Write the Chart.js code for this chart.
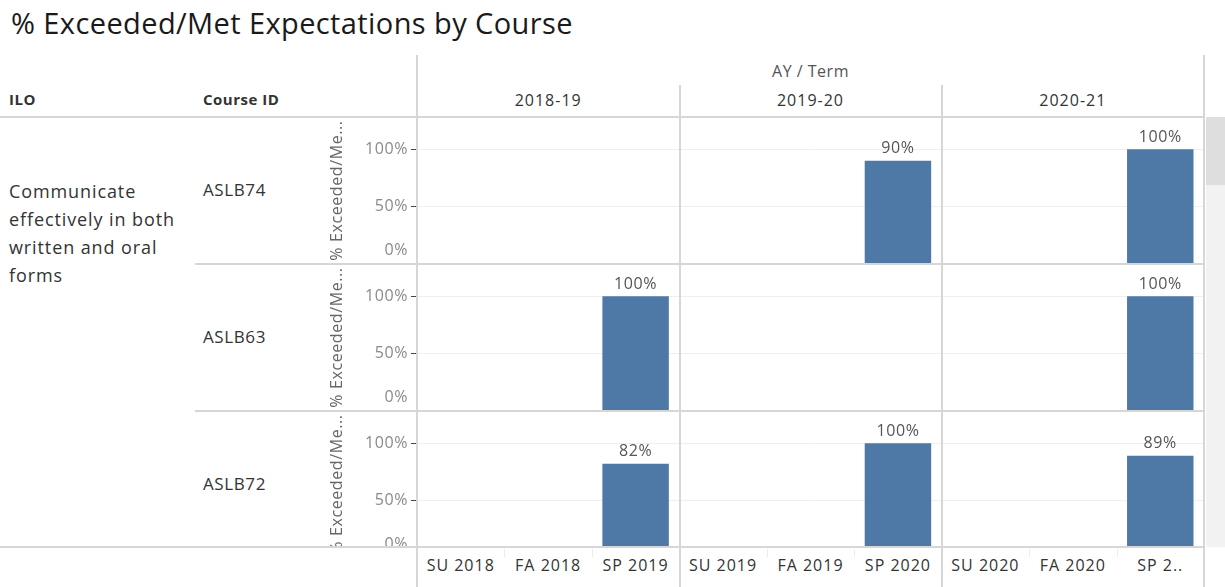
<!DOCTYPE html>
<html>
<head>
<meta charset="utf-8">
<script src="https://cdn.jsdelivr.net/npm/chart.js@4.4.0/dist/chart.umd.min.js"></script>
<style>
  body { margin: 0; background: #fff; font-family: "Open Sans", sans-serif; }
  #wrap { position: relative; width: 1225px; height: 587px; overflow: hidden; }
  .abs { position: absolute; white-space: nowrap; }
  .line { position: absolute; background: #d6d6d6; }
  canvas { display: block; }
</style>
</head>
<body>
<div id="wrap">
  <div class="abs" style="left:11px;top:3px;font-size:29px;letter-spacing:0.4px;color:#1a1a1a;">% Exceeded/Met Expectations by Course</div>
  <div class="abs" style="left:9px;top:89px;font-size:15px;letter-spacing:0.5px;font-weight:bold;color:#333;">ILO</div>
  <div class="abs" style="left:203px;top:89px;font-size:15px;letter-spacing:0.5px;font-weight:bold;color:#333;">Course ID</div>
  <div class="abs" style="left:417px;width:787px;top:60px;text-align:center;font-size:16px;letter-spacing:0.5px;color:#555;">AY / Term</div>
  <div class="abs" style="left:9px;top:177px;font-size:18px;letter-spacing:0.9px;line-height:28px;color:#333;">Communicate<br>effectively in both<br>written and oral<br>forms</div>

  <div class="abs" style="left:320px;top:117px;"><canvas id="row0" width="884" height="147"></canvas></div>
  <div class="abs" style="left:320px;top:264px;"><canvas id="row1" width="884" height="147"></canvas></div>
  <div class="abs" style="left:320px;top:411px;height:136px;overflow:hidden;"><canvas id="row2" width="884" height="147"></canvas></div>

  <div class="abs" style="left:1206px;top:117px;width:19px;height:430px;background:#f2f2f2;"></div>
  <div class="abs" style="left:1206px;top:117px;width:19px;height:68px;background:#dedede;"></div>
</div>

<script>
const termLabels = ['SU 2018', 'FA 2018', 'SP 2019', 'SU 2019', 'FA 2019', 'SP 2020', 'SU 2020', 'FA 2020', 'SP 2..'];
const years = ['2018-19', '2019-20', '2020-21'];
const courses = ['ASLB74', 'ASLB63', 'ASLB72'];

const aslb74 = [null, null, null, null, null, 90, null, null, 100];
const aslb63 = [null, null, 100, null, null, null, null, null, 100];
const aslb72 = [null, null, 82, null, null, 100, null, null, 89];

const yTicks = [0, 50, 100];
const yMax = 128;

const rowTops = [117, 264, 411];
const plotLeft = 417;
const plotWidth = 787;
const colWidth = plotWidth / termLabels.length;

Chart.defaults.font.family = '"Open Sans", sans-serif';

const wrap = document.getElementById('wrap');

function addDiv(cls, style, text) {
    const d = document.createElement('div');
    d.className = cls;
    d.setAttribute('style', style);
    if (text) d.textContent = text;
    wrap.appendChild(d);
    return d;
}

// year headers
years.forEach((y, i) => {
    addDiv('abs', `left:${plotLeft + i * 3 * colWidth}px;width:${3 * colWidth}px;top:89px;text-align:center;font-size:16px;letter-spacing:1px;color:#333;`, y);
});

// course ids
courses.forEach((c, i) => {
    addDiv('abs', `left:203px;top:${rowTops[i] + 61}px;font-size:17px;letter-spacing:0.6px;color:#333;`, c);
});

// term labels under the panes
termLabels.forEach((t, i) => {
    addDiv('abs', `left:${plotLeft + i * colWidth}px;width:${colWidth}px;top:554px;text-align:center;font-size:16px;letter-spacing:1px;color:#333;`, t);
    if (i % 3 !== 0) {
        addDiv('line', `left:${Math.round(plotLeft + i * colWidth)}px;top:549px;width:1px;height:8px;background:#ececec;`);
    }
});

// table lines
addDiv('line', 'left:0;top:116px;width:1205px;height:2px;');
addDiv('line', 'left:195px;top:263px;width:1010px;height:2px;');
addDiv('line', 'left:195px;top:410px;width:1010px;height:2px;');
addDiv('line', 'left:0;top:546px;width:1205px;height:2px;');
addDiv('line', 'left:416px;top:55px;width:2px;height:532px;');
addDiv('line', 'left:679px;top:85px;width:2px;height:502px;');
addDiv('line', 'left:941px;top:85px;width:2px;height:502px;');
addDiv('line', 'left:1203px;top:55px;width:2px;height:532px;');

// wider text spacing on the canvases, closer to the original font
const spacing = {
    id: 'spacing',
    beforeLayout(chart) { chart.ctx.letterSpacing = '0.6px'; },
    beforeDraw(chart) { chart.ctx.letterSpacing = '0.6px'; }
};

const valueLabels = {
    id: 'valueLabels',
    afterDatasetsDraw(chart) {
        const ctx = chart.ctx;
        const meta = chart.getDatasetMeta(0);
        const values = chart.data.datasets[0].data;
        ctx.save();
        ctx.letterSpacing = '0.6px';
        ctx.font = '16px "Open Sans", sans-serif';
        ctx.fillStyle = '#555';
        ctx.textAlign = 'center';
        ctx.textBaseline = 'bottom';
        meta.data.forEach((bar, i) => {
            if (values[i] == null) return;
            ctx.fillText(values[i] + '%', bar.x, bar.y - 4);
        });
        ctx.restore();
    }
};

function makeRow(canvasId, values) {
    const ctx = document.getElementById(canvasId).getContext('2d');
    return new Chart(ctx, {
        type: 'bar',
        data: {
            labels: termLabels,
            datasets: [{
                data: values,
                backgroundColor: '#4e79a7',
                categoryPercentage: 1,
                barPercentage: 0.76
            }]
        },
        options: {
            responsive: false,
            animation: false,
            devicePixelRatio: 1,
            layout: { padding: 0 },
            plugins: { legend: { display: false }, tooltip: { enabled: false } },
            scales: {
                x: { display: false, offset: true },
                y: {
                    min: 0,
                    max: yMax,
                    afterBuildTicks: s => { s.ticks = yTicks.map(v => ({ value: v })); },
                    afterFit: s => { s.width = 97; s.paddingTop = 0; s.paddingBottom = 0; },
                    border: { display: false },
                    grid: {
                        color: c => (c.tick && c.tick.value === 0) ? 'rgba(0,0,0,0)' : '#efefef',
                        tickColor: c => (c.tick && c.tick.value === 0) ? 'rgba(0,0,0,0)' : '#444',
                        tickLength: 6
                    },
                    ticks: {
                        autoSkip: false,
                        color: '#8a8a8a',
                        padding: 3,
                        font: { size: 16, lineHeight: 1.7 },
                        callback: v => v === 0 ? ['0%', ''] : v + '%'
                    },
                    title: {
                        display: true,
                        text: '% Exceeded/Me...',
                        color: '#666',
                        font: { size: 16 },
                        padding: { top: 8, bottom: 0 }
                    }
                }
            }
        },
        plugins: [spacing, valueLabels]
    });
}

makeRow('row0', aslb74);
makeRow('row1', aslb63);
makeRow('row2', aslb72);
</script>
</body>
</html>
